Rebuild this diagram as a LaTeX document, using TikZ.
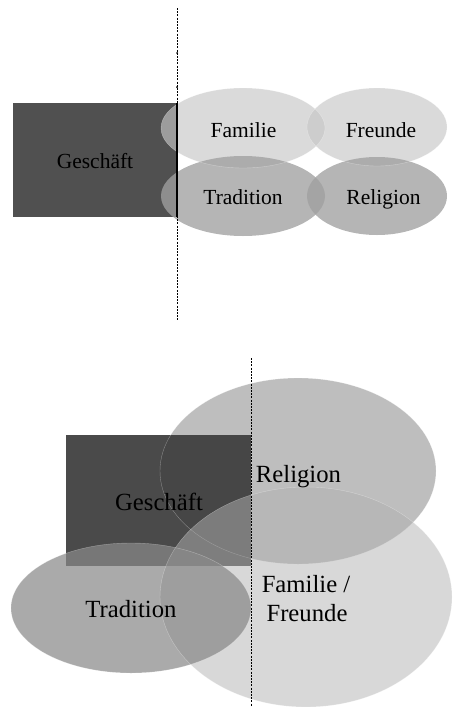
\documentclass[tikz,border=0pt]{standalone}
\usepackage{fontspec}
\setmainfont{Liberation Serif}
\definecolor{rectA}{RGB}{80,80,80}
\definecolor{rectB}{RGB}{65,65,65}
\definecolor{lightA}{RGB}{198,198,198}
\definecolor{darkA}{RGB}{160,160,160}
\definecolor{relB}{RGB}{190,190,190}
\definecolor{famB}{RGB}{178,178,178}
\definecolor{traB}{RGB}{137,137,137}
\tikzset{
  edge/.style={draw=white, draw opacity=0.35, line width=0.4pt},
  sep/.style={line width=0.6pt, dash pattern=on 2pt off 1.2pt},
  smalltxt/.style={font=\fontsize{21.5}{25}\selectfont, anchor=base, inner sep=0pt},
  bigtxt/.style={font=\fontsize{24.7}{28}\selectfont, anchor=base, inner sep=0pt, align=center},
}
\begin{document}
\begin{tikzpicture}[x=1pt,y=-1pt]
\useasboundingbox (0,0) rectangle (453,707);
% ---------- top diagram ----------
\fill[rectA] (13,103) rectangle (177,217);
\fill[lightA, fill opacity=0.65] (243,128) ellipse [x radius=82, y radius=40];
\fill[lightA, fill opacity=0.65] (377,127) ellipse [x radius=70, y radius=39];
\fill[darkA, fill opacity=0.78] (243,196) ellipse [x radius=82, y radius=40];
\fill[darkA, fill opacity=0.78] (377,196) ellipse [x radius=70, y radius=39];
\draw[edge] (243,128) ellipse [x radius=82, y radius=40];
\draw[edge] (377,127) ellipse [x radius=70, y radius=39];
\draw[line width=1.6pt] (177,103) -- (177,217);
\coordinate (topS) at (177,8);
\coordinate (topE) at (177,320);
\draw[sep] (topS) -- (topE);
\fill (177,53) circle (1pt);
\fill (177,87) circle (1pt);
\node[smalltxt] (tGesch) at (95,168) {Geschäft};
\node[smalltxt] (tFam) at (243.5,137) {Familie};
\node[smalltxt] (tFreu) at (381,137) {Freunde};
\node[smalltxt] (tTrad) at (243,204) {Tradition};
\node[smalltxt] (tRel) at (383.5,204) {Religion};
% ---------- bottom diagram ----------
\fill[relB] (298,471) ellipse [x radius=138, y radius=93];
\fill[rectB, fill opacity=0.954] (66,435) rectangle (251,566);
\draw[edge] (298,471) ellipse [x radius=138, y radius=93];
\fill[famB, fill opacity=0.5] (306,597) ellipse [x radius=146, y radius=110];
\fill[traB, fill opacity=0.72] (131,608) ellipse [x radius=120, y radius=65];
\draw[edge] (306,597) ellipse [x radius=146, y radius=110];
\draw[edge] (131,608) ellipse [x radius=120, y radius=65];
\coordinate (botS) at (251,358);
\coordinate (botE) at (251,707);
\draw[sep] (botS) -- (botE);
\node[bigtxt] (bRel) at (298.5,482) {Religion};
\node[bigtxt] (bGesch) at (159,510) {Geschäft};
\node[bigtxt] (bTrad) at (131,617) {Tradition};
\node[bigtxt] (bFam) at (306,592) {Familie /};
\node[bigtxt] (bFreu) at (307,621) {Freunde};
\end{tikzpicture}
\end{document}
